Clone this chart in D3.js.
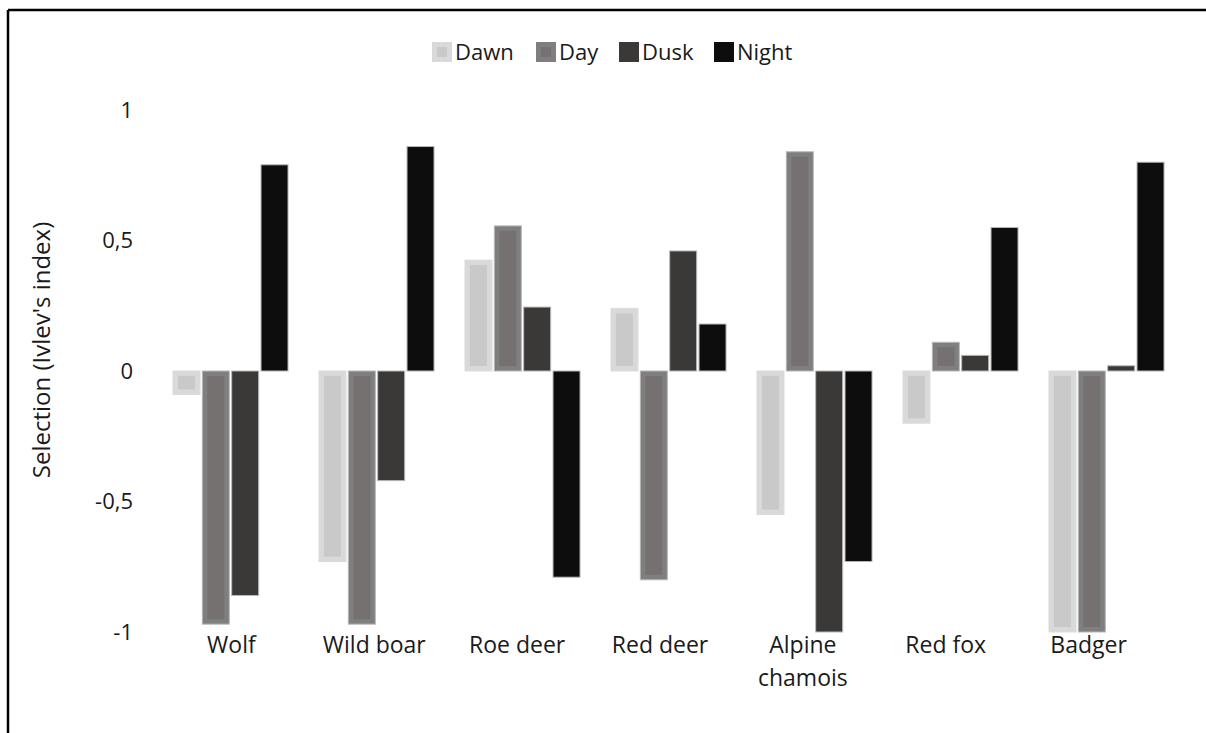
<!DOCTYPE html>
<html>
<head>
<meta charset="utf-8">
<script src="https://cdn.jsdelivr.net/npm/d3@7"></script>
<style>
  body { margin: 0; background: #fff; }
  text { font-family: "Open Sans", Lato, sans-serif; fill: #1a1a1a; }
</style>
</head>
<body>
<svg width="1206" height="733"></svg>
<script>
let width = 1206;
let height = 733;

let species = ['Wolf', 'Wild boar', 'Roe deer', 'Red deer', 'Alpine chamois', 'Red fox', 'Badger'];
let periods = ['Dawn', 'Day', 'Dusk', 'Night'];

let dawn  = [-0.09, -0.73,  0.425,  0.24, -0.55, -0.20, -1.00];
let day   = [-0.97, -0.97,  0.556, -0.80,  0.84,  0.11, -1.00];
let dusk  = [-0.86, -0.42,  0.245,  0.46, -1.00,  0.06,  0.02];
let night = [ 0.79,  0.86, -0.79,   0.18, -0.73,  0.55,  0.80];

let yTicks = [1, 0.5, 0, -0.5, -1];

let outerFill = {Dawn: '#d9d9d9', Day: '#7f7f7f', Dusk: '#3b3838', Night: '#0d0d0d'};
let innerFill = {Dawn: '#c9c9c9', Day: '#767171'};

let seriesByPeriod = {Dawn: dawn, Day: day, Dusk: dusk, Night: night};

let rows = [];
species.forEach((s, i) => {
  periods.forEach(p => rows.push({species: s, period: p, value: seriesByPeriod[p][i]}));
});

let svg = d3.select('svg');

// frame (only left and top edges show in the crop)
svg.append('line').attr('x1', 8).attr('y1', 10).attr('x2', 8).attr('y2', height)
   .attr('stroke', '#000').attr('stroke-width', 2.5);
svg.append('line').attr('x1', 8).attr('y1', 10).attr('x2', width).attr('y2', 10)
   .attr('stroke', '#000').attr('stroke-width', 2.5);

let xScale = d3.scaleBand()
               .domain(species)
               .range([157.5, 1179.5])
               .paddingInner(0.212)
               .paddingOuter(0.106);

let xInner = d3.scaleBand()
               .domain(periods)
               .range([0, xScale.bandwidth()])
               .paddingInner(0.08);

// category labels sit on a slightly tighter pitch than the bar groups in the original
let xLabelScale = d3.scaleBand()
                    .domain(species)
                    .range([160, 1160]);

let yScale = d3.scaleLinear()
               .domain([-1, 1])
               .range([632, 110]);

// excel style: comma decimals, plain hyphen for minus
let fmt = d => String(d).replace('.', ',');

let yAxis = svg.append('g')
    .attr('transform', 'translate(133,0)')
    .call(d3.axisLeft(yScale).tickValues(yTicks).tickFormat(fmt).tickSize(0).tickPadding(0));
yAxis.select('.domain').remove();
yAxis.selectAll('text')
    .style('font-size', '22px')
    .attr('font-family', '"Open Sans", Lato, sans-serif')
    .attr('fill', '#1a1a1a');

svg.append('text')
   .attr('transform', 'translate(50,350) rotate(-90)')
   .attr('text-anchor', 'middle')
   .style('font-size', '24px')
   .text("Selection (Ivlev's index)");

// bars
let bars = svg.append('g').selectAll('g')
  .data(rows)
  .enter()
  .append('g')
    .attr('transform', d => 'translate(' + (xScale(d.species) + xInner(d.period)) + ',0)');

bars.append('rect')
    .attr('x', 0)
    .attr('y', d => yScale(Math.max(0, d.value)))
    .attr('width', xInner.bandwidth())
    .attr('height', d => Math.abs(yScale(d.value) - yScale(0)))
    .attr('fill', d => outerFill[d.period])
    .attr('stroke', d => d.period === 'Dawn' ? '#dcdcdc' : '#b8b8b8')
    .attr('stroke-width', 1);

let inset = 5;
bars.filter(d => innerFill[d.period] && Math.abs(yScale(d.value) - yScale(0)) > 2 * inset)
  .append('rect')
    .attr('x', inset)
    .attr('y', d => yScale(Math.max(0, d.value)) + inset)
    .attr('width', xInner.bandwidth() - 2 * inset)
    .attr('height', d => Math.abs(yScale(d.value) - yScale(0)) - 2 * inset)
    .attr('fill', d => innerFill[d.period]);

// x labels
let xLabels = svg.append('g').selectAll('text')
  .data(species)
  .enter()
  .append('text')
    .attr('y', 653)
    .attr('text-anchor', 'middle')
    .style('font-size', '23px');

xLabels.each(function(d) {
  let words = d === 'Alpine chamois' ? ['Alpine', 'chamois'] : [d];
  let cx = xLabelScale(d) + xLabelScale.bandwidth() / 2;
  let t = d3.select(this);
  words.forEach((w, i) => {
    t.append('tspan')
     .attr('x', cx)
     .attr('dy', i === 0 ? 0 : 33)
     .text(w);
  });
});

// legend
let legendX = [432, 536, 619, 714];
let legend = svg.append('g').selectAll('g')
  .data(periods)
  .enter()
  .append('g')
    .attr('transform', (d, i) => 'translate(' + legendX[i] + ',42)');

legend.append('rect')
    .attr('width', 20).attr('height', 20)
    .attr('fill', d => outerFill[d]);
legend.filter(d => innerFill[d])
  .append('rect')
    .attr('x', 5).attr('y', 5).attr('width', 10).attr('height', 10)
    .attr('fill', d => innerFill[d]);
legend.append('text')
    .attr('x', 23)
    .attr('y', 18)
    .style('font-size', '22px')
    .text(d => d);
</script>
</body>
</html>
